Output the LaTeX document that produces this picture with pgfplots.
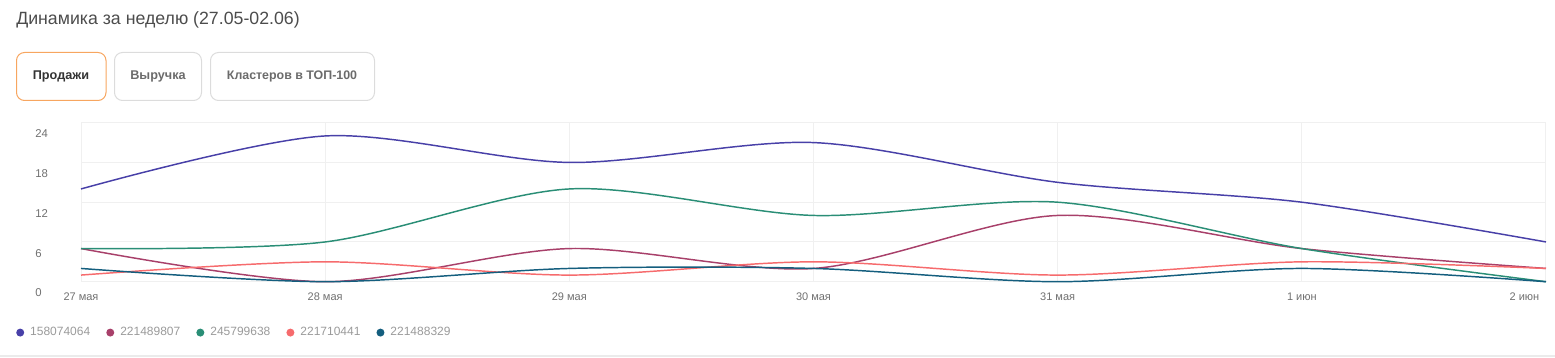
\documentclass[border=0pt]{standalone}
\usepackage{pgfplots}
\pgfplotsset{compat=1.18}
\usepackage{fontspec}
\setmainfont{Liberation Sans}
\definecolor{cBlue}{HTML}{4840A8}
\definecolor{cCrim}{HTML}{A8406A}
\definecolor{cGreen}{HTML}{2A8E76}
\definecolor{cSalmon}{HTML}{F66B6D}
\definecolor{cTeal}{HTML}{145E7E}
\definecolor{cGrid}{HTML}{F0F0F0}
\definecolor{cTick}{HTML}{707070}
\definecolor{cLeg}{HTML}{9A9A9A}
\definecolor{cBorder}{HTML}{DCDCDC}
\definecolor{cOrange}{HTML}{F7A660}
\begin{document}
\begin{tikzpicture}[x=0.75pt,y=0.75pt]
\path[use as bounding box] (0,0) rectangle (1555,357);
% title
\node[anchor=west,inner sep=0pt,text=black!70,font=\fontsize{13.3}{15}\selectfont] at (16,337) {Динамика за неделю (27.05-02.06)};
% buttons
\draw[cOrange,line width=0.75pt,rounded corners=6pt] (16.5,256.5) rectangle (106,304.5);
\draw[cBorder,line width=0.75pt,rounded corners=6pt] (114.5,256.5) rectangle (201.5,304.5);
\draw[cBorder,line width=0.75pt,rounded corners=6pt] (210.5,256.5) rectangle (374.5,304.5);
\node[inner sep=0pt,text=black!80,font=\fontsize{9.5}{12}\selectfont\bfseries] at (61,280.5) {Продажи};
\node[inner sep=0pt,text=black!58,font=\fontsize{9.5}{12}\selectfont\bfseries] at (158,280.5) {Выручка};
\node[inner sep=0pt,text=black!58,font=\fontsize{9.3}{12}\selectfont\bfseries] at (292,280.5) {Кластеров в ТОП-100};
% bottom separator
\fill[black!8] (0,0) rectangle (1555,2);
\begin{axis}[
  at={(60.75pt,56.475pt)}, anchor=origin,
  scale only axis, width=1098.75pt, height=119.25pt,
  xmin=0, xmax=6, ymin=0, ymax=24,
  clip=false,
  axis line style={draw=none},
  major tick length=0pt,
  xtick={0,...,6},
  xticklabels={27 мая,28 мая,29 мая,30 мая,31 мая,1 июн,\makebox[0pt][r]{2 июн\hspace{5pt}}},
  ytick={0,6,12,18,24},
  grid=major,
  major grid style={cGrid,line width=0.75pt},
  /pgf/number format/assume math mode=true,
  xticklabel style={anchor=north,inner sep=0pt,yshift=-8.5pt,text=cTick,font=\fontsize{8.25}{10}\selectfont},
  yticklabel style={anchor=west,inner sep=0pt,xshift=-34.5pt,yshift=-8.5pt,text=cTick,font=\fontsize{8.5}{10}\selectfont},
  every axis plot/.append style={line width=1.1pt, smooth, tension=0.5, mark=none},
  legend columns=5,
  legend style={at={(-0.0444,-0.32)}, anchor=west, draw=none, fill=none, inner sep=0pt,
    font=\fontsize{9}{11}\selectfont, text=cLeg,
    nodes={inner sep=0pt},
    /tikz/every even column/.append style={column sep=12pt},
    /tikz/every odd column/.append style={column sep=4.5pt}},
  legend image code/.code={\fill[#1,draw=none] (3pt,0pt) circle (3pt);},
]
\addplot[cBlue] coordinates {(0,14) (1,22) (2,18) (3,21) (4,15) (5,12) (6,6)};
\addplot[cCrim] coordinates {(0,5) (1,0) (2,5) (3,2) (4,10) (5,5) (6,2)};
\addplot[cGreen] coordinates {(0,5) (1,6) (2,14) (3,10) (4,12) (5,5) (6,0)};
\addplot[cSalmon] coordinates {(0,1) (1,3) (2,1) (3,3) (4,1) (5,3) (6,2)};
\addplot[cTeal] coordinates {(0,2) (1,0) (2,2) (3,2) (4,0) (5,2) (6,0)};
\legend{158074064,221489807,245799638,221710441,221488329}
\end{axis}
\end{tikzpicture}
\end{document}
